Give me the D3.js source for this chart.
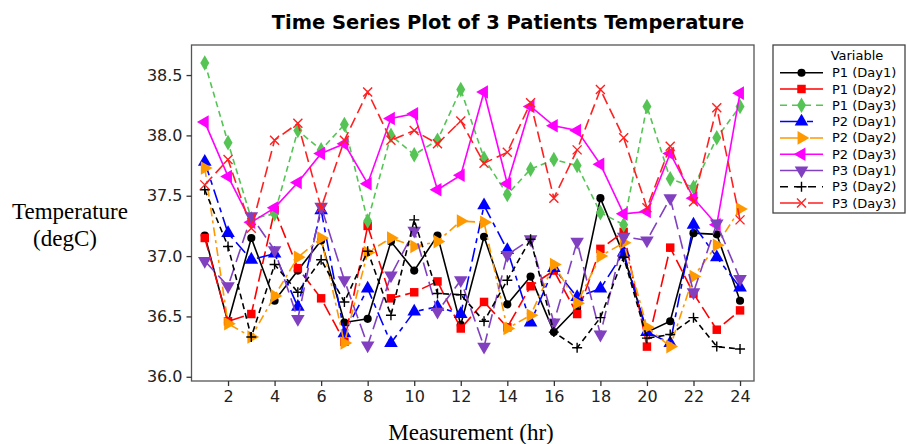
<!DOCTYPE html>
<html>
<head>
<meta charset="utf-8">
<script src="https://cdn.jsdelivr.net/npm/d3@7"></script>
<style>
  body { margin: 0; background: #fff; }
  .axis text { font-family: "DejaVu Sans", Verdana, sans-serif; font-size: 16px; fill: #222; }
  .axis path, .axis line { stroke: #333; stroke-width: 1.3; }
</style>
</head>
<body>
<div id="chartArea"></div>
<script>
// hours 1..24
var hours = d3.range(1, 25);

var p1Day1 = [37.17, 36.45, 37.15, 36.63, 36.88, 37.13, 36.45, 36.48, 37.12, 36.88, 37.17, 36.43,
              37.16, 36.60, 36.83, 36.37, 36.57, 37.48, 37.01, 36.37, 36.46, 37.19, 37.18, 36.63];
var p1Day2 = [37.15, 36.46, 36.52, 37.38, 36.90, 36.65, 36.29, 37.25, 36.65, 36.70, 36.79, 36.40,
              36.62, 36.41, 36.75, 36.88, 36.52, 37.06, 37.20, 36.25, 37.07, 36.69, 36.39, 36.55];
var p1Day3 = [38.60, 37.94, 37.31, 37.35, 38.04, 37.88, 38.09, 37.29, 38.00, 37.84, 37.96, 38.38,
              37.81, 37.51, 37.72, 37.80, 37.75, 37.36, 37.26, 38.24, 37.64, 37.57, 37.98, 38.24];
var p2Day1 = [37.78, 37.19, 36.97, 37.02, 36.58, 37.38, 36.36, 36.73, 36.28, 36.54, 36.58, 36.52,
              37.42, 37.05, 36.45, 36.90, 36.66, 36.73, 37.03, 36.37, 36.28, 37.26, 36.99, 36.74];
var p2Day2 = [37.73, 36.44, 36.33, 36.67, 36.99, 37.15, 36.28, 37.03, 37.15, 37.08, 37.12, 37.29,
              37.28, 36.40, 36.51, 36.93, 36.61, 37.00, 37.11, 36.41, 36.25, 36.83, 37.09, 37.39];
var p2Day3 = [38.11, 37.66, 37.28, 37.40, 37.61, 37.85, 37.93, 37.60, 38.14, 38.18, 37.55, 37.67,
              38.36, 37.60, 38.24, 38.08, 38.04, 37.76, 37.35, 37.37, 37.85, 37.48, 37.26, 38.35];
var p3Day1 = [36.96, 36.75, 37.33, 37.05, 36.48, 37.41, 36.80, 36.26, 36.84, 37.21, 36.54, 36.80,
              36.25, 37.01, 37.14, 36.45, 37.12, 36.35, 37.16, 37.13, 37.48, 36.70, 37.27, 36.81];
var p3Day2 = [37.55, 37.08, 36.33, 36.93, 36.70, 36.97, 36.62, 37.04, 36.51, 37.30, 36.69, 36.68,
              36.46, 36.80, 37.14, 36.37, 36.24, 36.49, 36.99, 36.32, 36.35, 36.49, 36.25, 36.23];
var p3Day3 = [37.59, 37.80, 37.23, 37.96, 38.10, 37.40, 37.96, 38.36, 37.96, 38.04, 37.93, 38.12,
              37.77, 37.86, 38.27, 37.48, 37.88, 38.38, 37.98, 37.40, 37.91, 37.45, 38.23, 37.30];

var seriesNames = ["P1 (Day1)", "P1 (Day2)", "P1 (Day3)", "P2 (Day1)", "P2 (Day2)", "P2 (Day3)",
                   "P3 (Day1)", "P3 (Day2)", "P3 (Day3)"];
var seriesValues = [p1Day1, p1Day2, p1Day3, p2Day1, p2Day2, p2Day3, p3Day1, p3Day2, p3Day3];

var xTicks = [2, 4, 6, 8, 10, 12, 14, 16, 18, 20, 22, 24];
var yTicks = [36.0, 36.5, 37.0, 37.5, 38.0, 38.5];

// look of each series
var colors = ["#000000", "#ff0000", "#55c455", "#0000ff", "#ff9900", "#ff00ff", "#8040c0", "#000000", "#ff2020"];
var dashes = [null, "13,5", "6,4", "14,5,5,5", "9,4,3,4", null, "14,6", "6,4", "11,5"];
var legendDashes = [null, null, "7,5", "22,5,6,20", "18,4,4,4", null, null, "8,6", "20,8"];
var shapes = ["circle", "square", "diamond", "up", "right", "left", "down", "plus", "cross"];

var W = 907, H = 444;
var margin = {left: 191.5, right: 153, top: 45, bottom: 63};
var width = W - margin.left - margin.right;
var height = H - margin.top - margin.bottom;

var svg = d3.select("#chartArea").append("svg")
  .attr("width", W)
  .attr("height", H)
  .style("font-family", "DejaVu Sans, Verdana, sans-serif");

var g = svg.append("g")
  .attr("transform", "translate(" + margin.left + "," + margin.top + ")");

//### scales ###
var x = d3.scaleLinear().domain([0.43, 24.6]).range([0, width]);
var y = d3.scaleLinear().domain([35.965, 38.749]).range([height, 0]);

// frame
g.append("rect")
  .attr("width", width)
  .attr("height", height)
  .attr("fill", "none")
  .attr("stroke", "#555")
  .attr("stroke-width", 1.3);

//### X axis ###
g.append("g")
  .attr("class", "x axis")
  .attr("transform", "translate(0," + height + ")")
  .call(d3.axisBottom(x).tickValues(xTicks).tickSize(5).tickPadding(5).tickFormat(d3.format("d")))
  .call(function(s) { s.select(".domain").remove(); });

//### Y axis ###
g.append("g")
  .attr("class", "y axis")
  .call(d3.axisLeft(y).tickValues(yTicks).tickSize(5).tickPadding(4).tickFormat(d3.format(".1f")))
  .call(function(s) { s.select(".domain").remove(); });

// marker paths
function markerPath(shape) {
  if (shape === "circle") return d3.symbol(d3.symbolCircle, 52)();
  if (shape === "square") return d3.symbol(d3.symbolSquare, 72)();
  if (shape === "diamond") return d3.symbol(d3.symbolDiamond, 70)();
  if (shape === "plus") return "M-5,0L5,0M0,-5L0,5";
  if (shape === "cross") return "M-4.5,-4.5L4.5,4.5M-4.5,4.5L4.5,-4.5";
  return d3.symbol(d3.symbolTriangle, 80)();
}
function markerRotate(shape) {
  if (shape === "right") return 90;
  if (shape === "left") return -90;
  if (shape === "down") return 180;
  return 0;
}
function drawMarker(sel, i) {
  var shape = shapes[i];
  var open = shape === "plus" || shape === "cross";
  sel.append("path")
    .attr("d", markerPath(shape))
    .attr("transform", function() {
      var t = d3.select(this.parentNode).attr("data-pos");
      return t + " rotate(" + markerRotate(shape) + ")";
    })
    .attr("fill", open ? "none" : colors[i])
    .attr("stroke", open ? colors[i] : "none")
    .attr("stroke-width", open ? 1.4 : 0);
}

var line = d3.line()
  .x(function(d, k) { return x(hours[k]); })
  .y(function(d) { return y(d); });

//### series ###
seriesValues.forEach(function(vals, i) {
  var sg = g.append("g").attr("class", "series");
  sg.append("path")
    .attr("d", line(vals))
    .attr("fill", "none")
    .attr("stroke", colors[i])
    .attr("stroke-width", 1.6)
    .attr("stroke-dasharray", dashes[i]);

  sg.selectAll(".pt").data(vals).enter()
    .append("g")
    .attr("class", "pt")
    .attr("data-pos", function(d, k) { return "translate(" + x(hours[k]) + "," + y(d) + ")"; })
    .each(function() { drawMarker(d3.select(this), i); });
});

//### title and axis labels ###
var title = svg.append("text")
  .attr("x", 508)
  .attr("y", 29)
  .attr("text-anchor", "middle")
  .style("font-family", "DejaVu Sans, Verdana, sans-serif")
  .style("font-weight", "bold")
  .style("font-size", "16px")
  .text("Time Series Plot of 3 Patients Temperature");
// fit to the width of the original heading
var tw = title.node().getComputedTextLength();
title.style("font-size", (16 * 473 / tw) + "px");

svg.append("text")
  .attr("x", 70)
  .attr("y", 219)
  .attr("text-anchor", "middle")
  .style("font-family", "Liberation Serif, Times New Roman, serif")
  .style("font-size", "23px")
  .text("Temperature");
svg.append("text")
  .attr("x", 65)
  .attr("y", 246)
  .attr("text-anchor", "middle")
  .style("font-family", "Liberation Serif, Times New Roman, serif")
  .style("font-size", "23px")
  .text("(degC)");
svg.append("text")
  .attr("x", 471)
  .attr("y", 440)
  .attr("text-anchor", "middle")
  .style("font-family", "Liberation Serif, Times New Roman, serif")
  .style("font-size", "23px")
  .text("Measurement (hr)");

//### legend ###
var lg = svg.append("g").attr("transform", "translate(773,45)");
lg.append("rect")
  .attr("width", 132)
  .attr("height", 168)
  .attr("fill", "#fff")
  .attr("stroke", "#444")
  .attr("stroke-width", 1.3);
lg.append("text")
  .attr("x", 84)
  .attr("y", 15)
  .attr("text-anchor", "middle")
  .style("font-size", "13px")
  .text("Variable");

seriesNames.forEach(function(name, i) {
  var ry = 27.7 + i * 16.3;
  var row = lg.append("g");
  row.append("line")
    .attr("x1", 7).attr("x2", 50)
    .attr("y1", ry).attr("y2", ry)
    .attr("stroke", colors[i])
    .attr("stroke-width", 1.5)
    .attr("stroke-dasharray", legendDashes[i]);
  row.append("g")
    .attr("data-pos", "translate(28.5," + ry + ")")
    .each(function() { drawMarker(d3.select(this), i); });
  row.append("text")
    .attr("x", 59)
    .attr("y", ry + 4.5)
    .style("font-size", "13px")
    .text(name);
});
</script>
</body>
</html>
